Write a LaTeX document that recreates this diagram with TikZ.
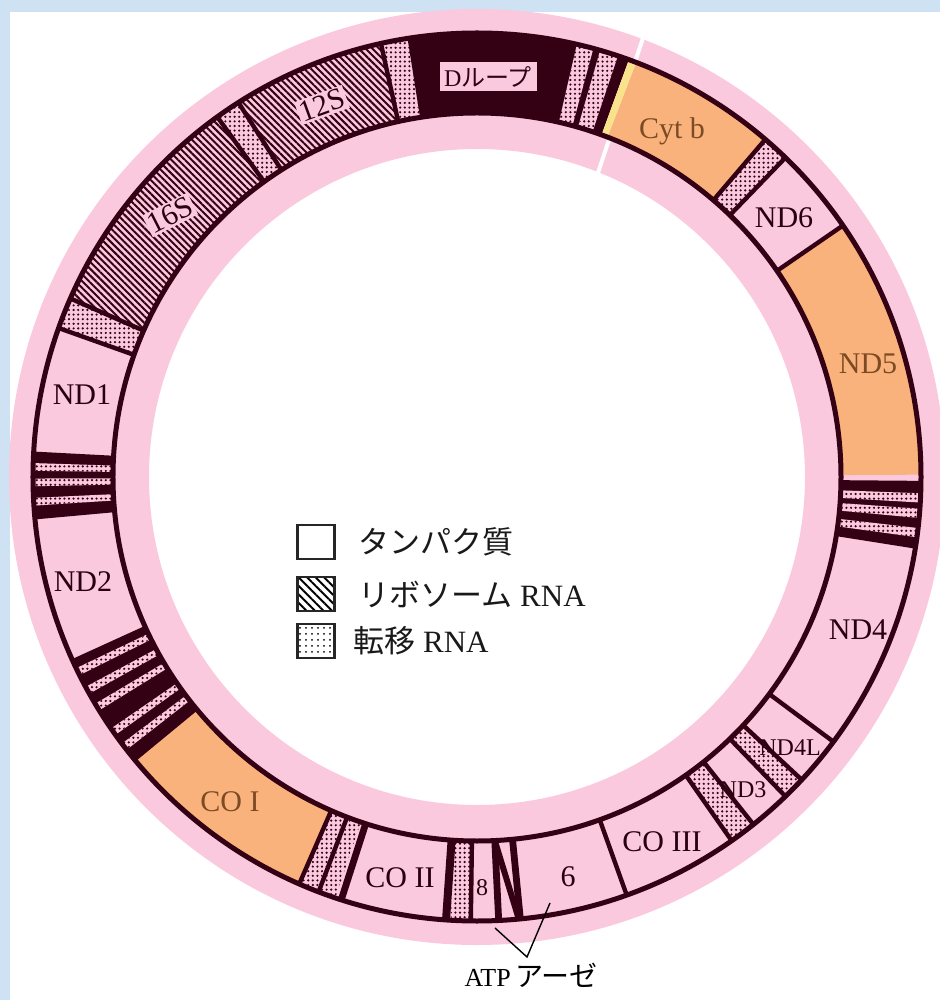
\documentclass[tikz,border=0pt]{standalone}
\usepackage{fontspec}
\setmainfont{Liberation Serif}
\newfontfamily\jpfont{Noto Sans CJK JP}
\usetikzlibrary{patterns.meta}

\definecolor{ringpink}{RGB}{251,201,222}
\definecolor{darkred}{RGB}{51,0,20}
\definecolor{peach}{RGB}{250,178,125}
\definecolor{bluebg}{RGB}{206,226,243}
\definecolor{browntext}{RGB}{125,75,35}
\definecolor{paleyellow}{RGB}{248,226,140}

\newcommand{\ringseg}[3]{%
  \path[#3] (#1:182pt) arc[start angle=#1, end angle=#2, radius=182pt]
    -- (#2:222pt) arc[start angle=#2, end angle=#1, radius=222pt] -- cycle;}

\tikzset{
  bound/.style={darkred, line width=2.2pt},
  rimline/.style={darkred, line width=2.5pt},
  darkband/.style={fill=darkred},
  peachgene/.style={fill=peach},
  rrna/.style={pattern={Lines[angle=-45,distance=2.4pt,line width=1pt]}, pattern color=darkred},
  trna/.style={pattern={Dots[radius=0.6pt,distance=2.3pt]}, pattern color=darkred},
  genelabel/.style={font=\fontsize{15}{18}\selectfont, text=darkred!80!black, inner sep=0pt},
  hatchlabel/.style={genelabel, fill=ringpink, inner sep=1pt},
  peachlabel/.style={genelabel, text=browntext},
  smalllabel/.style={genelabel, font=\fontsize{12}{14}\selectfont},
  legbox/.style={draw=black!85, line width=1.2pt, minimum width=18.5pt, minimum height=17pt, inner sep=0pt},
  legtext/.style={right, inner sep=0pt, font=\fontsize{15.5}{18}\selectfont, text=black!90}
}

\begin{document}
\begin{tikzpicture}[x=0.5pt, y=0.5pt]
		\useasboundingbox (-477,-523) rectangle (463,477);
		\fill[bluebg] (-477,-523) rectangle (463,477);
		\fill[white] (-467,-523) rectangle (463,465);
		\fill[ringpink, even odd rule] (0,0) circle[radius=234pt] (0,0) circle[radius=164pt];
		\draw[white, line width=2pt] (68.3:163pt) -- (69.3:236pt);
		\ringseg{99}{70}{darkband}
		\ringseg{-0.5}{-9}{darkband}
		\ringseg{-140.5}{-155.5}{darkband}
		\ringseg{185.2}{177}{darkband}
		\ringseg{69}{49.5}{peachgene}
		\ringseg{34.5}{0.3}{peachgene}
		\ringseg{-113.6}{-140.5}{peachgene}
		\ringseg{70}{69}{fill=paleyellow}
		\ringseg{122.5}{102.5}{rrna}
		\ringseg{156.3}{125.8}{rrna}
		\foreach \a/\b in {77/74.8, 73.9/71.5, -2.1/-3.3, -4.1/-5.3, -6.6/-7.8, 178.2/179.2, 180.2/181.2, 182.7/183.7, -153.5/-154.5, -150.8/-151.8, -148.3/-149.3, -144.5/-145.5, -142.1/-143.1}
			\ringseg{\a}{\b}{fill=ringpink};
		\foreach \a/\b in {102.5/99, 125.8/122.5, 160.4/156.3, 49.5/46, -43/-46, -51.5/-55, -91/-93.4, -108.6/-110.6, -111.2/-113.4, 77/74.8, 73.9/71.5, -2.1/-3.3, -4.1/-5.3, -6.6/-7.8, 178.2/179.2, 180.2/181.2, 182.7/183.7, -153.5/-154.5, -150.8/-151.8, -148.3/-149.3, -144.5/-145.5, -142.1/-143.1}
			\ringseg{\a}{\b}{trna};
		\foreach \a in {102.5, 122.5, 125.8, 156.3, 160.4, 177, 185.2, -155.5, -140.5, -113.6, -110.9, -90.8, -70.3, -55, -51.5, -46, -43, -36.6, -9, 34.5, 46, 49.5}
			\draw[bound] (\a:182pt) -- (\a:222pt);
		\draw[bound, line width=3.4pt] (-107.8:182pt) -- (-107.8:222pt);
		\draw[bound, line width=4pt] (-94:182pt) -- (-94:222pt);
		\draw[bound, line width=3.4pt] (-87.2:182pt) -- (-87.2:222pt);
		\draw[bound, line width=3.4pt] (-84.4:182pt) -- (-84.4:222pt);
		\draw[bound, line width=3pt] (-87.2:182pt) -- (-84.6:222pt);
		\draw[rimline] (0,0) circle[radius=182pt];
		\draw[rimline] (0,0) circle[radius=222pt];
		\node[fill=ringpink, minimum width=48.5pt, minimum height=14.5pt, inner sep=0pt, font=\fontsize{12}{14}\selectfont, text=darkred] (dloop) at (11,400) {D{\jpfont ループ}};
		\node[hatchlabel, rotate=20] (s12) at (-155,372) {12S};
		\node[hatchlabel, rotate=27] (s16) at (-307,262) {16S};
		\node[peachlabel] (cytb) at (195,346) {Cyt b};
		\node[genelabel] (nd6) at (307,259) {ND6};
		\node[peachlabel] (nd5) at (391,113) {ND5};
		\node[genelabel] (nd4) at (381,-153) {ND4};
		\node[smalllabel] (nd4l) at (313,-271) {ND4L};
		\node[smalllabel] (nd3) at (266,-313) {ND3};
		\node[genelabel] (co3) at (185,-365) {CO III};
		\node[genelabel] (atp6) at (91,-400) {6};
		\node[smalllabel] (atp8) at (5,-411) {8};
		\node[genelabel] (co2) at (-77,-401) {CO II};
		\node[peachlabel] (co1) at (-247,-325) {CO I};
		\node[genelabel] (nd2) at (-394,-105) {ND2};
		\node[genelabel] (nd1) at (-395,82) {ND1};
		\node[legbox, fill=white] (protbox) at (-161,-65) {};
		\node[legbox, pattern={Lines[angle=-45,distance=3pt,line width=1pt]}] (rrnabox) at (-161,-117) {};
		\node[legbox, pattern={Dots[radius=0.5pt,distance=3pt]}] (trnabox) at (-161,-164) {};
		\node[legtext] (prottext) at (-119,-65) {\jpfont タンパク質};
		\node[legtext] (rrnatext) at (-119,-117) {{\jpfont リボソーム} RNA};
		\node[legtext] (trnatext) at (-124,-164) {{\jpfont 転移} RNA};
		\node[inner sep=0pt, font=\fontsize{13}{15}\selectfont] (atp) at (54,-498) {ATP\,{\jpfont\fontsize{14}{15}\selectfont アーゼ}};
		\coordinate (atptip) at (50,-480);
		\coordinate (atp8end) at (18,-451);
		\coordinate (atp6end) at (73,-426);
		\draw[line width=0.7pt] (atp8end) -- (atptip) -- (atp6end);
	\end{tikzpicture}
\end{document}
